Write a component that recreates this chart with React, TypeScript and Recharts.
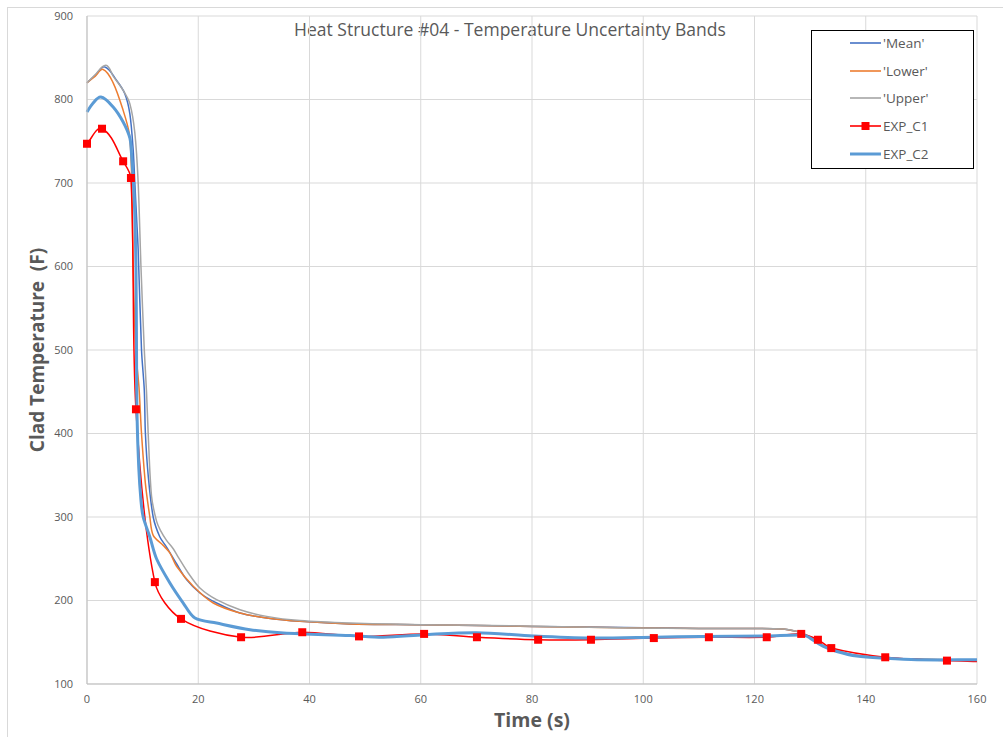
import React from 'react';
import { LineChart, Line, XAxis, YAxis, CartesianGrid, Legend } from 'recharts';

// ---------- data ----------
const xTicks = [0, 20, 40, 60, 80, 100, 120, 140, 160];
const yTicks = [100, 200, 300, 400, 500, 600, 700, 800, 900];

const meanTime = [0, 1.5, 3.2, 5.3, 6.8, 7.7, 8.3, 8.6, 8.9, 9.2, 9.8, 10.3, 10.5, 11.0, 11.9, 13.1, 14.3, 16.1, 17.9, 20.3, 23.3, 27.5, 32.3, 38.3, 47.3, 60, 80, 100, 110, 125, 127.6, 128.8, 130, 132.4, 134.8, 138.4, 143.5, 149.2, 160];
const meanTemp = [820, 829, 839, 823, 807, 783, 740, 700, 660, 620, 500, 452, 400, 350, 300, 276, 264, 244, 225, 209, 197, 185, 179, 175, 172, 171, 169, 167.5, 166.5, 166, 163, 160, 156, 146, 140, 134, 131, 129.5, 128.5];

const lowerTime = [0, 1.5, 2.9, 4.7, 6.5, 7.6, 8.0, 8.3, 8.76, 9.35, 9.8, 10.5, 11.3, 11.9, 13.7, 14.9, 16.1, 19.1, 22.7, 27.5, 32.3, 38.3, 47.3, 60, 80, 100, 110, 125, 127.6, 128.8, 130, 132.4, 134.8, 138.4, 143.5, 149.2, 160];
const lowerTemp = [820, 828, 836, 820, 787, 759, 715, 600, 500, 455, 400, 340, 300, 278, 266, 257, 241, 217, 197, 185, 179, 175, 172, 171, 169, 167, 166.5, 166, 163, 160, 156, 146, 140, 134, 131, 129.5, 128.5];

const upperTime = [0, 1.5, 3.4, 4.7, 6.5, 7.7, 8.6, 9.2, 9.7, 10.3, 10.7, 11.0, 11.6, 12.5, 13.2, 14.3, 15.5, 16.4, 18.2, 20.3, 23.3, 27.5, 32.3, 38.3, 47.3, 60, 78, 98, 110, 125.2, 127.6, 128.8, 130, 132.4, 134.8, 138.4, 143.5, 149.2, 160];
const upperTemp = [820, 830, 841, 828, 811, 795, 760, 700, 600, 500, 450, 400, 325, 295, 284, 272, 262, 252, 233, 215, 201, 189, 181, 176, 173, 171, 169.5, 167, 166.5, 166, 163, 160.5, 156, 146, 140, 134, 131, 129.5, 128.5];

const expC1Time = [0, 2.7, 6.5, 7.9, 8.8, 12.2, 16.9, 27.7, 38.7, 48.9, 60.6, 70.1, 81.1, 90.6, 101.9, 111.8, 122.2, 128.4, 131.4, 133.8, 143.5, 154.6, 160];
const expC1Temp = [747, 765, 726, 706, 429, 222, 178, 156, 162, 157, 160, 156, 153, 153, 155, 156, 156, 160, 153, 143, 132, 128, 127];

const expC2Time = [0, 1, 2.5, 4.7, 6.5, 7.7, 8.0, 8.5, 8.8, 8.9, 9.0, 9.3, 9.7, 10.1, 11.3, 12.5, 14.9, 17.3, 19.4, 23.3, 29.3, 35.3, 47.3, 53.3, 60.6, 70, 80.2, 90.4, 102, 110.2, 122.2, 128.8, 130, 132.4, 134.8, 138.4, 143.5, 149.2, 160];
const expC2Temp = [785, 795, 803, 791, 773, 754, 735, 680, 600, 500, 420, 360, 320, 300, 276, 250, 221, 197, 179, 173, 165, 161, 158, 156, 159, 161.5, 157.5, 155, 156, 157, 157.5, 158.7, 155, 145, 139, 133.5, 130.8, 129, 129];

const seriesNames = ["'Mean'", "'Lower'", "'Upper'", 'EXP_C1', 'EXP_C2'];
const seriesColors = ['#4472C4', '#ED7D31', '#A5A5A5', '#FF0000', '#5B9BD5'];

const toRows = (ts: number[], vs: number[]) => ts.map((t, i) => ({ t, v: vs[i] }));
const meanData = toRows(meanTime, meanTemp);
const lowerData = toRows(lowerTime, lowerTemp);
const upperData = toRows(upperTime, upperTemp);
const expC1Data = toRows(expC1Time, expC1Temp);
const expC2Data = toRows(expC2Time, expC2Temp);

// Excel-like smoothed line: Bezier segments, tangent direction from neighbours,
// control distance scaled to each segment's own length (no overshoot on uneven spacing)
const excelSmooth = (context: any) => {
  let pts: number[][] = [];
  const K = 0.3;
  const unit = (a: number[], b: number[]) => {
    const dx = b[0] - a[0];
    const dy = b[1] - a[1];
    const l = Math.hypot(dx, dy) || 1;
    return [dx / l, dy / l];
  };
  return {
    areaStart() {},
    areaEnd() {},
    lineStart() {
      pts = [];
    },
    point(x: number, y: number) {
      pts.push([+x, +y]);
    },
    lineEnd() {
      const n = pts.length;
      if (!n) return;
      context.moveTo(pts[0][0], pts[0][1]);
      if (n === 1) return;
      const tan = pts.map((_, i) => unit(pts[Math.max(i - 1, 0)], pts[Math.min(i + 1, n - 1)]));
      for (let i = 0; i < n - 1; i++) {
        const p1 = pts[i];
        const p2 = pts[i + 1];
        const L = Math.hypot(p2[0] - p1[0], p2[1] - p1[1]) * K;
        context.bezierCurveTo(
          p1[0] + tan[i][0] * L,
          p1[1] + tan[i][1] * L,
          p2[0] - tan[i + 1][0] * L,
          p2[1] - tan[i + 1][1] * L,
          p2[0],
          p2[1]
        );
      }
    },
  };
};

const FONT = "'Open Sans', sans-serif";
const TEXT = '#595959';

const SquareDot = (props: any) => {
  const { cx, cy, index, payload } = props;
  if (payload && payload.t >= 160) return <g key={`d${index}`} />;
  return <rect key={`d${index}`} x={cx - 4} y={cy - 4} width={8} height={8} fill="#FF0000" />;
};

const LegendBox = () => (
  <div
    style={{
      width: 163,
      height: 139,
      border: '1.5px solid #000',
      background: '#fff',
      boxSizing: 'border-box',
      position: 'relative',
      fontFamily: FONT,
      fontSize: 13.5,
      color: TEXT,
    }}
  >
    {seriesNames.map((name, i) => (
      <div
        key={name}
        style={{ position: 'absolute', left: 38, top: 12 + i * 27.7 - 10, height: 20, display: 'flex', alignItems: 'center', whiteSpace: 'nowrap' }}
      >
        <svg width={32} height={12} style={{ display: 'block' }}>
          <line x1={0} y1={6} x2={31} y2={6} stroke={seriesColors[i]} strokeWidth={i === 4 ? 3 : 1.6} />
          {i === 3 && <rect x={11.5} y={2} width={8} height={8} fill="#FF0000" />}
        </svg>
        <span style={{ marginLeft: 1 }}>{name}</span>
      </div>
    ))}
  </div>
);

export default function App() {
  return (
    <div style={{ position: 'absolute', left: 0, top: 0, width: 1003, height: 737, background: '#fff', fontFamily: FONT }}>
      <div style={{ position: 'absolute', left: 7, top: 7, width: 996, height: 730, borderLeft: '1px solid #d9d9d9', borderTop: '1px solid #d9d9d9', boxSizing: 'border-box' }} />
      <div
        style={{ position: 'absolute', left: 20, top: 18, width: 980, textAlign: 'center', fontSize: 17.5, lineHeight: '22px', color: TEXT, fontFamily: FONT }}
      >
        Heat Structure #04 - Temperature Uncertainty Bands
      </div>
      <div style={{ position: 'absolute', left: 0, top: 0 }}>
        <LineChart width={1003} height={737} margin={{ top: 16, right: 26, left: 0, bottom: 0 }}>
          <CartesianGrid stroke="#d9d9d9" strokeWidth={1} />
          <XAxis
            dataKey="t"
            type="number"
            domain={[0, 160]}
            ticks={xTicks}
            height={53}
            tickLine={false}
            tickSize={0}
            tickMargin={11}
            axisLine={{ stroke: '#bfbfbf', strokeWidth: 1 }}
            tick={{ fill: TEXT, fontSize: 11, fontFamily: FONT }}
            label={{ value: 'Time (s)', position: 'insideBottom', offset: 10, fill: TEXT, fontSize: 19.5, fontWeight: 700, fontFamily: FONT }}
          />
          <YAxis
            type="number"
            domain={[100, 900]}
            ticks={yTicks}
            width={87}
            tickLine={false}
            tickSize={0}
            tickMargin={14}
            axisLine={{ stroke: '#bfbfbf', strokeWidth: 1 }}
            tick={{ fill: TEXT, fontSize: 11, fontFamily: FONT }}
            label={{
              value: 'Clad Temperature \u00A0(F)',
              angle: -90,
              position: 'insideLeft',
              offset: 37,
              fill: TEXT,
              fontSize: 19,
              fontWeight: 700,
              fontFamily: FONT,
              style: { textAnchor: 'middle' },
            }}
          />
          <Legend
            layout="vertical"
            align="center"
            verticalAlign="middle"
            wrapperStyle={{ top: 30, left: 811, width: 163, height: 139 }}
            content={() => <LegendBox />}
          />
          <Line data={meanData} dataKey="v" name={seriesNames[0]} type={excelSmooth as any} stroke={seriesColors[0]} strokeWidth={1.5} dot={false} activeDot={false} isAnimationActive={false} />
          <Line data={lowerData} dataKey="v" name={seriesNames[1]} type={excelSmooth as any} stroke={seriesColors[1]} strokeWidth={1.5} dot={false} activeDot={false} isAnimationActive={false} />
          <Line data={upperData} dataKey="v" name={seriesNames[2]} type={excelSmooth as any} stroke={seriesColors[2]} strokeWidth={1.5} dot={false} activeDot={false} isAnimationActive={false} />
          <Line data={expC1Data} dataKey="v" name={seriesNames[3]} type={excelSmooth as any} stroke={seriesColors[3]} strokeWidth={1.5} dot={<SquareDot />} activeDot={false} isAnimationActive={false} />
          <Line data={expC2Data} dataKey="v" name={seriesNames[4]} type={excelSmooth as any} stroke={seriesColors[4]} strokeWidth={3} dot={false} activeDot={false} isAnimationActive={false} />
        </LineChart>
      </div>
    </div>
  );
}
